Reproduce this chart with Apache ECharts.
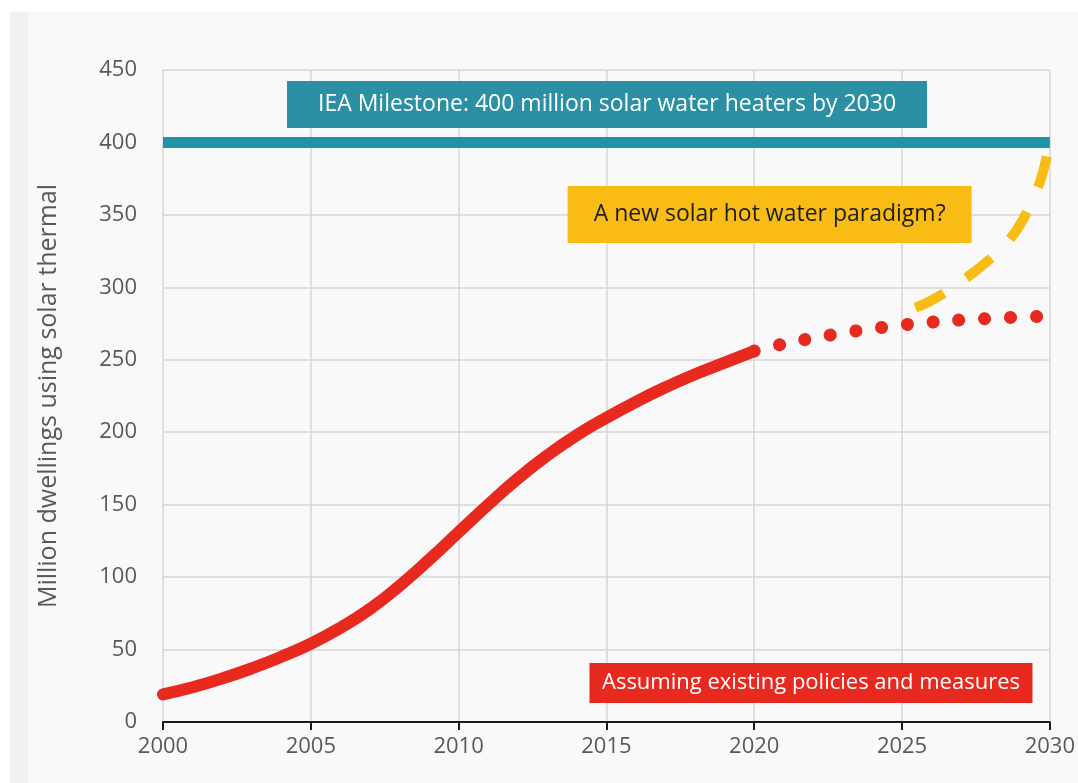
<!DOCTYPE html>
<html>
<head>
<meta charset="utf-8">
<script src="https://cdn.jsdelivr.net/npm/echarts@6/dist/echarts.min.js"></script>
<style>
  html, body { margin: 0; padding: 0; background: #ffffff; }
  #chart { width: 1078px; height: 783px; }
</style>
</head>
<body>
<div id="chart"></div>
<script>
// Installed base of solar water heating, million dwellings
const years = [2000, 2001, 2002, 2003, 2004, 2005, 2006, 2007, 2008, 2009, 2010,
               2011, 2012, 2013, 2014, 2015, 2016, 2017, 2018, 2019, 2020];
const historical = [19, 24, 30, 37, 45, 54, 65, 78, 94, 112, 131,
                    150, 168, 184, 198, 210, 221, 231, 240, 248, 256];

// Outlook under existing policies
const stepsYears = [2020, 2021, 2022, 2023, 2024, 2025, 2026, 2027, 2028, 2029, 2030];
const stepsValues = [256, 261, 265, 268.5, 271.5, 274, 276, 277.5, 278.5, 279.5, 280];

// Accelerated uptake path towards the milestone
const paradigmYears = [2025.45, 2026, 2027, 2028, 2028.75, 2029.3, 2029.7, 2030];
const paradigmValues = [286, 291, 304, 320, 336, 355, 375, 400];

// Milestone level
const milestoneYears = [2000, 2030];
const milestoneValues = [400, 400];

const xTicks = [2000, 2005, 2010, 2015, 2020, 2025, 2030];
const yTicks = [0, 50, 100, 150, 200, 250, 300, 350, 400, 450];

const labels = {
  milestone: 'IEA Milestone: 400 million solar water heaters by 2030',
  paradigm: 'A new solar hot water paradigm?',
  policies: 'Assuming existing policies and measures',
  yName: 'Million dwellings using solar thermal'
};

const pair = (xs, ys) => xs.map((x, i) => [x, ys[i]]);

const FONT = '"Open Sans", "Noto Sans", sans-serif';
const TEAL = '#2093a7';
const TEAL_BOX = '#2b90a4';
const RED = '#e8291f';
const YELLOW = '#f8bc14';

const chart = echarts.init(document.getElementById('chart'));

chart.setOption({
  animation: false,
  backgroundColor: '#ffffff',
  textStyle: { fontFamily: FONT },
  graphic: [
    { type: 'rect', z: -10, shape: { x: 10, y: 12, width: 1068, height: 771 }, style: { fill: '#f9f9f9' } },
    { type: 'rect', z: -9, shape: { x: 10, y: 12, width: 18, height: 771 }, style: { fill: '#f1f1f1' } }
  ],
  grid: { left: 163, right: 26, top: 70, bottom: 61, containLabel: false },
  xAxis: {
    type: 'value',
    min: xTicks[0],
    max: xTicks[xTicks.length - 1],
    interval: 5,
    axisLine: { show: true, onZero: false, lineStyle: { color: '#1a1a1a', width: 2 } },
    axisTick: { show: true, length: 8, lineStyle: { color: '#1a1a1a', width: 2 } },
    axisLabel: { color: '#595959', fontSize: 22, fontFamily: FONT, margin: 14, formatter: v => String(v) },
    splitLine: { show: true, lineStyle: { color: '#d6d6d6', width: 1.5 } }
  },
  yAxis: {
    type: 'value',
    min: yTicks[0],
    max: yTicks[yTicks.length - 1],
    interval: 50,
    name: labels.yName,
    nameLocation: 'middle',
    nameGap: 102,
    nameRotate: 90,
    nameTextStyle: { color: '#595959', fontSize: 25, fontFamily: FONT },
    axisLine: { show: false },
    axisTick: { show: false },
    axisLabel: { color: '#595959', fontSize: 22, fontFamily: FONT, margin: 26 },
    splitLine: { show: true, lineStyle: { color: '#d6d6d6', width: 1.5 } }
  },
  series: [
    {
      name: 'Milestone',
      type: 'line',
      data: pair(milestoneYears, milestoneValues),
      symbol: 'none',
      lineStyle: { color: TEAL, width: 11 },
      z: 3,
      markPoint: {
        silent: true,
        symbol: 'rect',
        symbolSize: [640, 47],
        itemStyle: { color: TEAL_BOX },
        label: { show: true, position: 'inside', color: '#ffffff', fontSize: 23, fontFamily: FONT, formatter: labels.milestone },
        data: [{ coord: [2015.02, 426.2] }]
      }
    },
    {
      name: 'New paradigm',
      type: 'line',
      data: pair(paradigmYears, paradigmValues),
      symbol: 'none',
      smooth: 0.4,
      lineStyle: { color: YELLOW, width: 10, type: [32, 27], cap: 'butt' },
      z: 4,
      markPoint: {
        silent: true,
        symbol: 'rect',
        symbolSize: [404, 57],
        itemStyle: { color: YELLOW },
        label: { show: true, position: 'inside', color: '#1e1e1e', fontSize: 23, fontFamily: FONT, formatter: labels.paradigm },
        data: [{ coord: [2020.52, 350.3] }]
      }
    },
    {
      name: 'Existing policies',
      type: 'line',
      data: pair(stepsYears, stepsValues),
      symbol: 'none',
      smooth: 0.4,
      lineStyle: { color: RED, width: 13, type: [0.1, 25.8], cap: 'round' },
      z: 5
    },
    {
      name: 'Historical',
      type: 'line',
      data: pair(years, historical),
      symbol: 'none',
      smooth: 0.5,
      lineStyle: { color: RED, width: 12, cap: 'round' },
      z: 6,
      markPoint: {
        silent: true,
        symbol: 'rect',
        symbolSize: [443, 40],
        itemStyle: { color: RED },
        label: { show: true, position: 'inside', color: '#ffffff', fontSize: 22, fontFamily: FONT, formatter: labels.policies },
        data: [{ coord: [2021.92, 26.9] }]
      }
    }
  ]
});
</script>
</body>
</html>
